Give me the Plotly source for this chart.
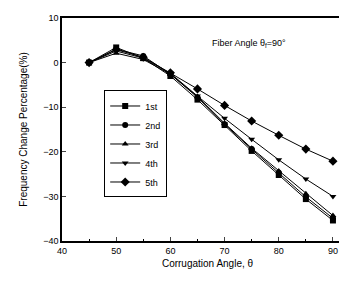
import plotly.graph_objects as go

angles = [45, 50, 55, 60, 65, 70, 75, 80, 85, 90]
mode1 = [0, 3.4, 1.0, -3.0, -8.3, -14.0, -19.8, -25.2, -30.6, -35.4]
mode2 = [0, 3.0, 1.5, -2.6, -7.8, -13.8, -19.4, -24.7, -30.1, -34.9]
mode3 = [0, 2.1, 0.7, -2.6, -7.6, -13.6, -19.2, -24.3, -29.4, -34.3]
mode4 = [0, 2.6, 1.0, -2.4, -7.5, -12.5, -17.2, -21.8, -26.1, -30.0]
mode5 = [0, 2.9, 1.2, -2.3, -5.9, -9.6, -13.1, -16.3, -19.4, -22.1]
names = ["1st", "2nd", "3rd", "4th", "5th"]
symbols = ["square", "circle", "triangle-up", "triangle-down", "diamond"]
x_ticks = [40, 50, 60, 70, 80, 90]
y_ticks = [10, 0, -10, -20, -30, -40]

fig = go.Figure()
for name, ys, sym in zip(names, [mode1, mode2, mode3, mode4, mode5], symbols):
    fig.add_trace(go.Scatter(
        x=angles, y=ys, name=name, mode="lines+markers",
        line=dict(color="black", width=1),
        marker=dict(symbol=sym, size=6 if sym != "diamond" else 7, color="black"),
    ))

font = "Arial, Liberation Sans, sans-serif"
fig.update_layout(
    width=347, height=283,
    margin=dict(l=54, r=0, t=10, b=50),
    paper_bgcolor="white", plot_bgcolor="white",
    font=dict(family=font, color="black", size=9),
    showlegend=True,
    legend=dict(
        x=0.145, y=0.435, xanchor="left", yanchor="middle",
        bordercolor="black", borderwidth=1, bgcolor="white",
        font=dict(size=9), tracegroupgap=0, itemwidth=30,
    ),
    xaxis=dict(
        range=[40, 93.7], tickvals=x_ticks, ticks="inside", ticklen=4,
        showline=True, linecolor="black", linewidth=1.5, mirror=True,
        showgrid=False, zeroline=False,
        minor=dict(dtick=5, ticks="inside", ticklen=2, tickcolor="black"),
        title=dict(text="Corrugation Angle, θ", font=dict(size=10), standoff=5),
        tickfont=dict(size=9),
    ),
    yaxis=dict(
        range=[-40, 10], tickvals=y_ticks, ticks="inside", ticklen=4,
        showline=True, linecolor="black", linewidth=1.5, mirror=True,
        showgrid=False, zeroline=False,
        title=dict(text="Frequency Change Percentage(%)", font=dict(size=10), standoff=14),
        tickfont=dict(size=9),
    ),
    annotations=[dict(
        x=0.51, y=0.885, xref="paper", yref="paper", xanchor="left", yanchor="middle",
        text="Fiber Angle θ<sub>f</sub>=90°", showarrow=False, font=dict(size=9),
    )],
)

fig.write_html("out.html")
